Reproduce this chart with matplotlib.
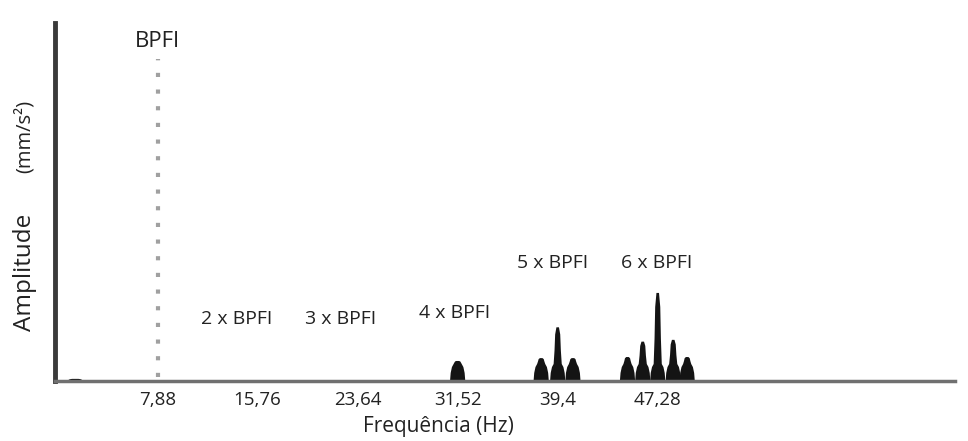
import numpy as np
import matplotlib
matplotlib.use('Agg')
import matplotlib.pyplot as plt

plt.rcParams['font.family'] = ['Open Sans', 'DejaVu Sans']

bpfi = 7.88
tick_vals = [7.88, 15.76, 23.64, 31.52, 39.4, 47.28]
tick_labels = ['7,88', '15,76', '23,64', '31,52', '39,4', '47,28']

# spectrum peaks (Hz, relative amplitude)
peak_freq = [1.4, 31.52, 38.1, 39.4, 40.6, 44.9, 46.1, 47.28, 48.5, 49.6]
peak_amp = [0.006, 0.056, 0.064, 0.15, 0.064, 0.067, 0.11, 0.246, 0.115, 0.067]

harm_labels = ['2 x BPFI', '3 x BPFI', '4 x BPFI', '5 x BPFI', '6 x BPFI']
harm_x = [14.1, 22.3, 31.3, 39.0, 47.2]
harm_y = [0.173, 0.173, 0.19, 0.33, 0.33]

fig = plt.figure(figsize=(9.68, 4.41), dpi=100)
ax = fig.add_axes([0.0568, 0.136, 0.9298, 0.812])

# outline of one spike: rounded base blob plus a narrower spike on top
dx = np.array([-0.6, -0.55, -0.45, -0.32, -0.25, -0.2, -0.1,
               0.1, 0.2, 0.25, 0.32, 0.45, 0.55, 0.6])
for f, h in zip(peak_freq, peak_amp):
    b = min(h, 0.05)
    s = h - b
    dy = np.array([0, 0.45 * b, 0.78 * b, 0.95 * b, b + 0.35 * s, b + 0.8 * s, h,
                   h, b + 0.8 * s, b + 0.35 * s, 0.95 * b, 0.78 * b, 0.45 * b, 0])
    ax.fill(f + dx, dy, color='#141414', lw=0)

ax.plot([bpfi, bpfi], [0.01, 0.9], color='#a0a0a0', lw=3,
        linestyle=(0, (1, 3)))
ax.text(bpfi, 0.947, 'BPFI', ha='center', va='center', fontsize=16,
        color='#222222')

for lab, x, y in zip(harm_labels, harm_x, harm_y):
    ax.text(x, y, lab, ha='center', va='center', fontsize=14, color='#222222')

ax.set_xlim(-0.2, 70.7)
ax.set_ylim(0, 1)
ax.set_xticks(tick_vals)
ax.set_xticklabels(tick_labels, fontsize=13.5, color='#222222')
ax.set_yticks([])
ax.tick_params(axis='x', length=0, pad=7)

for s in ['top', 'right']:
    ax.spines[s].set_visible(False)
ax.spines['left'].set_linewidth(3.5)
ax.spines['left'].set_color('#3a3a3a')
ax.spines['bottom'].set_linewidth(2.5)
ax.spines['bottom'].set_color('#707070')

fig.text(0.4525, 0.032, 'Frequência (Hz)', ha='center', va='center',
         fontsize=15, color='#222222')
fig.text(0.026, 0.383, 'Amplitude', rotation=90, ha='center', va='center',
         fontsize=17.5, color='#222222')
fig.text(0.025, 0.69, '(mm/s²)', rotation=90, ha='center', va='center',
         fontsize=14.5, color='#222222')

fig.savefig('out.png', dpi=100)
